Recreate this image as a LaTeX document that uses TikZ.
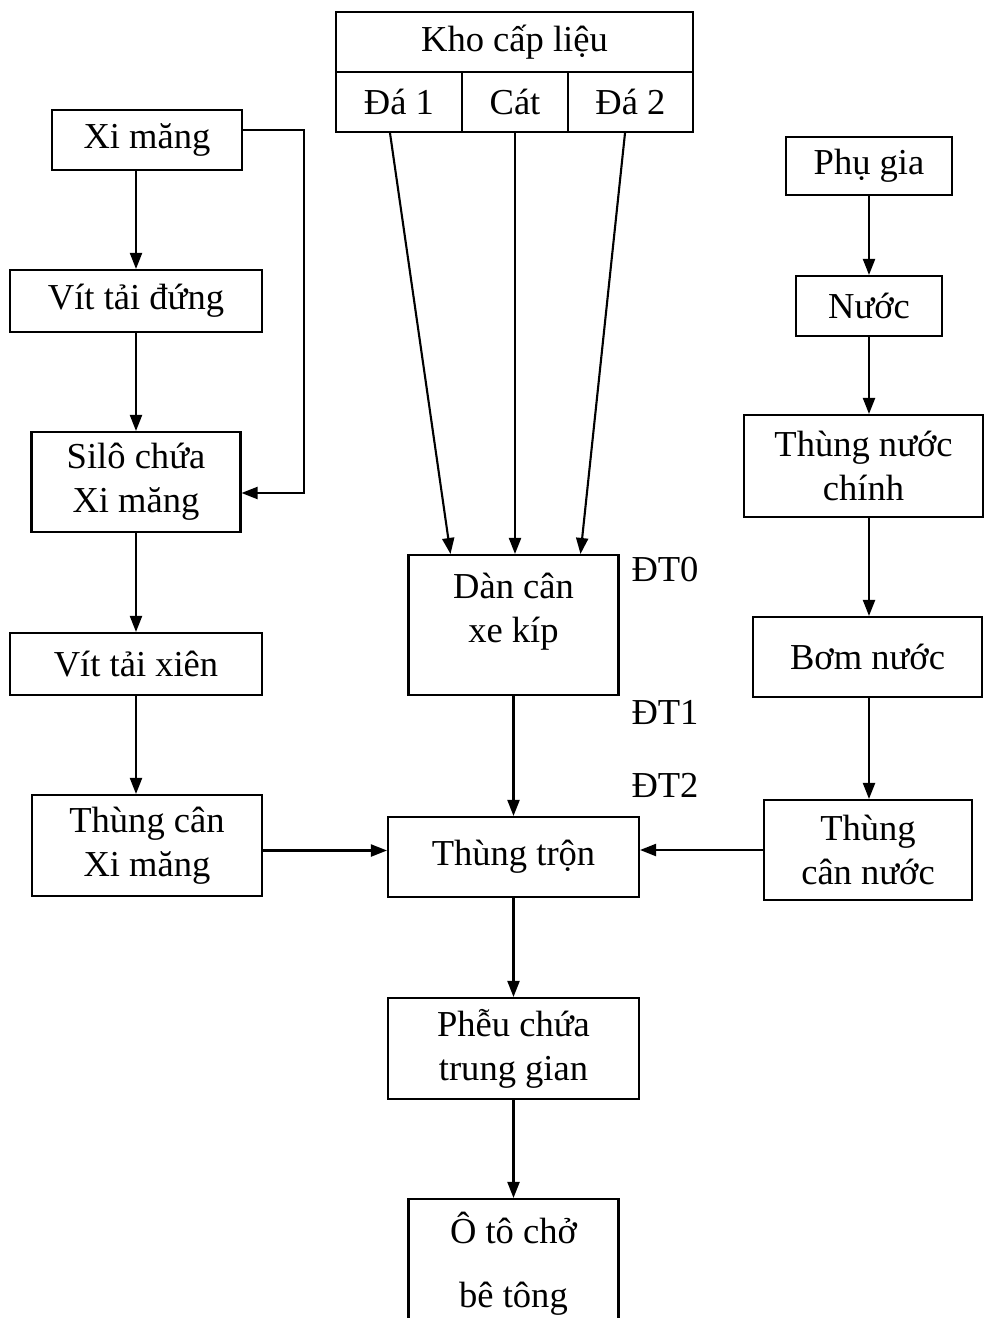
\documentclass[tikz,border=0pt]{standalone}
\usepackage{fontspec}
\setmainfont{Liberation Serif}
\usetikzlibrary{positioning,arrows.meta}

\begin{document}
\begin{tikzpicture}[x=0.02cm,y=-0.02cm,
      box/.style={draw,line width=1.2pt,align=center,inner sep=2pt,font=\fontsize{20.8}{25}\selectfont},
      lbl/.style={font=\fontsize{20.8}{25}\selectfont},
      arr/.style={-{Triangle[length=3.2mm,width=2.4mm]},line width=1.2pt}]
    \useasboundingbox (0,0) rectangle (985,1318);
    % kho cap lieu
    \node[box,minimum width=7.14cm,minimum height=1.2cm] (kho) at (514.5,42) {Kho cấp liệu};
    \node[box,minimum width=2.52cm,minimum height=1.2cm] (da1) at (399,102) {Đá 1};
    \node[box,minimum width=2.12cm,minimum height=1.2cm] (cat) at (515,102) {Cát};
    \node[box,minimum width=2.5cm,minimum height=1.2cm] (da2) at (630.5,102) {Đá 2};
    % xi mang
    \node[box,minimum width=3.8cm,minimum height=1.2cm] (xi) at (147,140) {Xi măng};
    \node[box,minimum width=5.04cm,minimum height=1.24cm] (vtd) at (136,301) {Vít tải đứng};
    \node[box,minimum width=4.18cm,minimum height=2cm] (silo) at (136,482) {Silô chứa\\Xi măng};
    \node[box,minimum width=5.04cm,minimum height=1.24cm] (vtx) at (136,664) {Vít tải xiên};
    \node[box,minimum width=4.6cm,minimum height=2.02cm] (tcxm) at (147,845.5) {Thùng cân\\Xi măng};
    % giua
    \node[box,minimum width=4.2cm,minimum height=2.8cm] (dan) at (513.5,625) {};
    \node[lbl,align=center,below=0.25cm of dan.north] (dantxt) {Dàn cân\\xe kíp};
    \node[box,minimum width=5.02cm,minimum height=1.6cm] (tron) at (513.5,857) {Thùng trộn};
    \node[box,minimum width=5.02cm,minimum height=2.02cm] (pheu) at (513.5,1048.5) {Phễu chứa\\trung gian};
    \node[box,minimum width=4.2cm,minimum height=2.6cm] (oto) at (513.5,1264) {Ô tô chở\\[0.4cm]bê tông};
    \node[lbl] (dt0) at (665,570) {ĐT0};
    \node[lbl] (dt1) at (665,712) {ĐT1};
    \node[lbl] (dt2) at (665,785) {ĐT2};
    % nuoc
    \node[box,minimum width=3.32cm,minimum height=1.16cm] (phu) at (869,166) {Phụ gia};
    \node[box,minimum width=2.92cm,minimum height=1.2cm] (nuoc) at (869,306) {Nước};
    \node[box,minimum width=4.78cm,minimum height=2.04cm] (tnc) at (863.5,466) {Thùng nước\\chính};
    \node[box,minimum width=4.58cm,minimum height=1.6cm] (bom) at (867.5,657) {Bơm nước};
    \node[box,minimum width=4.16cm,minimum height=2cm] (tcn) at (868,850) {Thùng\\cân nước};
    % arrows
    \draw[arr] (xi.south -| vtd) -- (vtd);
    \draw[arr] (vtd) -- (silo);
    \draw[arr] ([yshift=0.2cm]xi.east) -- ++(1.22cm,0) |- ([yshift=-0.22cm]silo.east);
    \draw[arr] (silo) -- (vtx);
    \draw[arr] (vtx) -- (vtx |- tcxm.north);
    \draw[arr] ([yshift=-0.1cm]tcxm.east) -- ([yshift=-0.1cm]tcxm.east -| tron.west);
    \draw[arr] ([xshift=-0.18cm]da1.south) -- ([xshift=-1.26cm]dan.north);
    \draw[arr] (cat.south) -- (cat.south |- dan.north);
    \draw[arr] ([xshift=-0.11cm]da2.south) -- ([xshift=1.34cm]dan.north);
    \draw[arr] (dan) -- (tron);
    \draw[arr] (tron) -- (pheu);
    \draw[arr] (pheu) -- (oto);
    \draw[arr] (phu) -- (nuoc);
    \draw[arr] (nuoc) -- (nuoc.south |- tnc.north);
    \draw[arr] (tnc.south -| nuoc) -- (nuoc |- bom.north);
    \draw[arr] (bom.south -| nuoc) -- (nuoc |- tcn.north);
    \draw[arr] (tcn.west) -- (tcn.west -| tron.east);
  \end{tikzpicture}
\end{document}
